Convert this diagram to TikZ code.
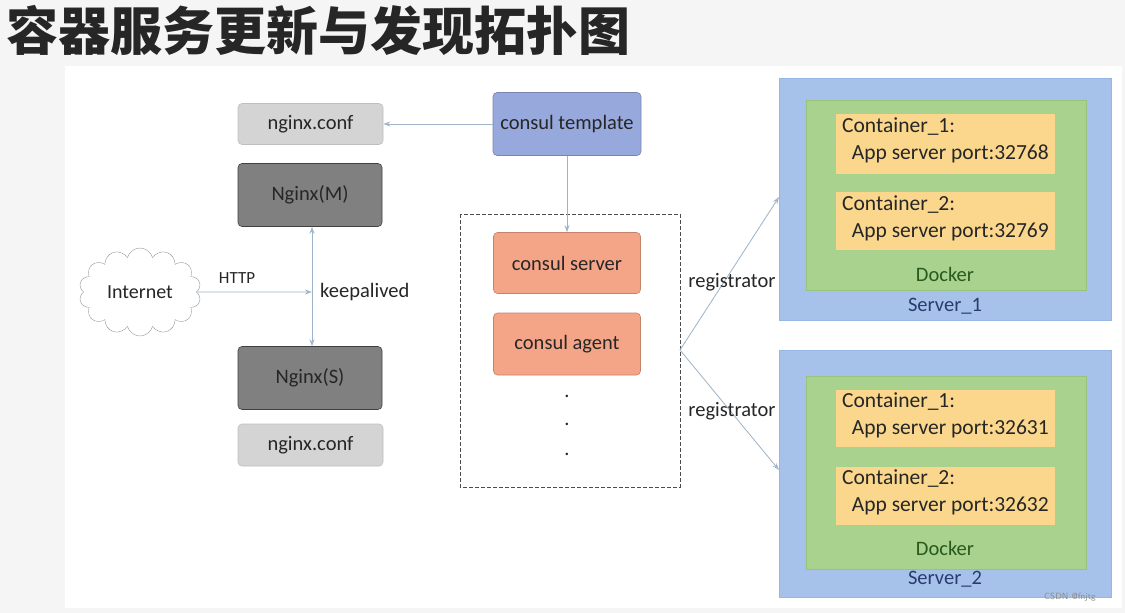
\documentclass[tikz,border=0pt]{standalone}
\usepackage{fontspec}
\setmainfont{Carlito}
\newfontfamily\cjk{Noto Sans CJK SC}
\usetikzlibrary{shapes.symbols,arrows.meta}
\definecolor{arr}{HTML}{9DB3C8}
\definecolor{tmplc}{RGB}{151,168,220}
\definecolor{orng}{RGB}{245,165,135}
\definecolor{srvf}{RGB}{166,194,234}
\definecolor{srvd}{RGB}{150,182,228}
\definecolor{dockf}{RGB}{168,210,142}
\definecolor{dockd}{RGB}{150,195,125}
\definecolor{contf}{RGB}{250,215,140}
\definecolor{dtext}{RGB}{40,90,30}
\definecolor{stext}{RGB}{40,60,110}
\begin{document}
\begin{tikzpicture}[x=1pt,y=-1pt,
  box/.style={rounded corners=4pt,draw=#1,line width=0.6pt,inner sep=0pt,font=\fontsize{20.5}{24}\selectfont,text=black!85},
  conn/.style={draw=arr,line width=0.8pt,-{Stealth[length=7pt,width=5pt,open]}},
  lab/.style={font=\fontsize{20.5}{24}\selectfont,inner sep=0pt,text=black!85},
  cont/.style={fill=contf,draw=none,inner sep=0pt},
  ctext/.style={font=\fontsize{21.5}{27}\selectfont,align=left,inner sep=0pt,anchor=north west,text=black!85},
  srvbox/.style={fill=srvf,draw=srvd,line width=0.8pt,inner sep=0pt},
  dock/.style={fill=dockf,draw=dockd,line width=0.8pt,inner sep=0pt}]
\useasboundingbox (0,0) rectangle (1125,613);
\fill[black!4] (0,0) rectangle (1125,613);
\fill[white] (65,66) rectangle (1122,608);
\node[font=\cjk\bfseries\fontsize{52}{55}\selectfont,anchor=west,inner sep=0pt,text=black!85] (title) at (6,30) {容器服务更新与发现拓扑图};
% left
\node[box=black!25,fill=black!17,minimum width=145pt,minimum height=41pt] (conf1) at (310.5,124) {nginx.conf};
\node[box=black!75,fill=black!50,minimum width=144pt,minimum height=63pt] (ngm) at (310,195) {Nginx(M)};
\node[box=black!75,fill=black!50,minimum width=144pt,minimum height=63pt] (ngs) at (310,378) {Nginx(S)};
\node[box=black!25,fill=black!17,minimum width=145pt,minimum height=42pt] (conf2) at (310.5,445) {nginx.conf};
\node[cloud,cloud puffs=14,aspect=1.4,draw=black!40,fill=white,minimum width=122pt,minimum height=88pt,font=\fontsize{20}{24}\selectfont,text=black!85,inner sep=0pt] (inet) at (140,292) {Internet};
\coordinate (ka) at (312,292);
\draw[conn] (inet.east) -- (ka);
\node[lab,anchor=south,font=\fontsize{17}{20}\selectfont] (http) at (237,284) {HTTP};
\draw[draw=arr,line width=0.8pt,{Stealth[length=7pt,width=5pt,open]}-{Stealth[length=7pt,width=5pt,open]}] (ngm.south -| ka) -- (ngs.north -| ka);
\node[lab,anchor=west] (kal) at (320,292) {keepalived};
% middle
\node[box=tmplc!80!black,fill=tmplc,minimum width=148pt,minimum height=63pt] (tmpl) at (567,124) {consul template};
\draw[conn] (tmpl.west) -- (conf1.east);
\draw[dash pattern=on 4pt off 2pt,draw=black!70,line width=0.8pt] (460,214) rectangle (680,487);
\node[box=orng!80!black,fill=orng,minimum width=147pt,minimum height=61pt] (srv) at (567,263) {consul server};
\node[box=orng!80!black,fill=orng,minimum width=147pt,minimum height=62pt] (agt) at (567,344) {consul agent};
\draw[conn] (tmpl.south) -- (srv.north);
\foreach \y/\n in {396/d1,424/d2,454/d3}\node[lab] (\n) at (567,\y) {.};
% servers
\node[srvbox,minimum width=332pt,minimum height=242pt] (s1) at (945,199) {};
\node[dock,minimum width=280pt,minimum height=190pt] (k1) at (946,195) {};
\node[cont,minimum width=219pt,minimum height=60pt] (c11) at (945.5,144) {};
\node[cont,minimum width=219pt,minimum height=58pt] (c12) at (945.5,221) {};
\node[ctext] (t11) at (842,118) {Container\_1:\\\ \ App server port:32768};
\node[ctext] (t12) at (842,196) {Container\_2:\\\ \ App server port:32769};
\node[lab,text=dtext] (kl1) at (945,274) {Docker};
\node[lab,text=stext] (sl1) at (945,306) {Server\_1};
\node[srvbox,minimum width=332pt,minimum height=247pt] (s2) at (945,473.5) {};
\node[dock,minimum width=280pt,minimum height=193pt] (k2) at (946,472.5) {};
\node[cont,minimum width=219pt,minimum height=57pt] (c21) at (945.5,418.5) {};
\node[cont,minimum width=219pt,minimum height=58pt] (c22) at (945.5,496) {};
\node[ctext] (t21) at (842,393) {Container\_1:\\\ \ App server port:32631};
\node[ctext] (t22) at (842,470) {Container\_2:\\\ \ App server port:32632};
\node[lab,text=dtext] (kl2) at (945,548) {Docker};
\node[lab,text=stext] (sl2) at (945,579) {Server\_2};
\coordinate (br) at (680,350);
\coordinate (e1) at (779,197);
\coordinate (e2) at (779,470);
\draw[conn] (br) -- (e1);
\draw[conn] (br) -- (e2);
\node[lab] (r1) at (732,282) {registrator};
\node[lab] (r2) at (732,411) {registrator};
\node[font=\sffamily\fontsize{9}{10}\selectfont,text=black!45,inner sep=0pt] (wm) at (1070,597) {CSDN @fnjtg};
\end{tikzpicture}
\end{document}
